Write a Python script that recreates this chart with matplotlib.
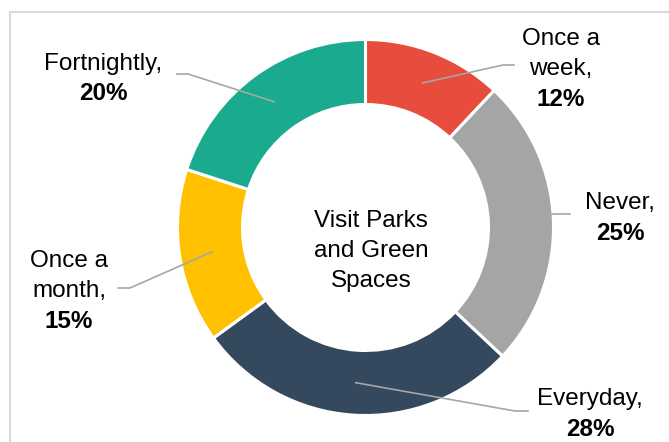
import numpy as np
import matplotlib.pyplot as plt

# Survey answers: how often people visit parks and green spaces
categories = ['Once a week', 'Never', 'Everyday', 'Once a month', 'Fortnightly']
values = [12, 25, 28, 15, 20]
label_names = ['Once a\nweek,', 'Never,', 'Everyday,', 'Once a\nmonth,', 'Fortnightly,']
colors = ['#E74C3C', '#A5A5A5', '#34495E', '#FFC000', '#1AAB8E']
center_title = 'Visit Parks\nand Green\nSpaces'

W, H = 669, 442
plt.rcParams['font.family'] = ['Liberation Sans', 'DejaVu Sans']

fig = plt.figure(figsize=(W / 100, H / 100), dpi=100)
ax = fig.add_axes([0, 0, 1, 1])

def py(y):
    # pixel rows run downwards, the axes run upwards
    return H - y

cx, cy = 365.5, py(227.5)
radius, ring = 188, 65

wedges, _ = ax.pie(values, colors=colors, startangle=90, counterclock=False,
                   radius=radius, center=(cx, cy),
                   wedgeprops=dict(width=ring, edgecolor='white', linewidth=2.2))

ax.set_xlim(0, W)
ax.set_ylim(0, H)
ax.set_aspect('equal')
ax.axis('off')

# frame around the chart area
ax.plot([9.5, 9.5, W + 5], [py(H + 5), py(12), py(12)], color='#D9D9D9', lw=1.5,
        solid_joinstyle='miter')

# elbow point, end of leader, label centre x, first baseline
label_layout = [
    ((503, 65), (514, 65), 561, 45),
    ((553, 214), (570, 214), 620, 209),
    ((515, 411), (528, 411), 590, 405),
    ((130, 288), (118, 288), 69, 267),
    ((188, 74), (177, 74), 103.5, 70),
]
line_step = 30.5
fs = 17.5

for w, v, name, (elbow, end, lx, base) in zip(wedges, values, label_names, label_layout):
    mid = np.deg2rad((w.theta1 + w.theta2) / 2)
    r_mid = radius - ring / 2
    sx, sy = cx + r_mid * np.cos(mid), cy + r_mid * np.sin(mid)
    ax.plot([sx, elbow[0], end[0]], [sy, py(elbow[1]), py(end[1])],
            color='#A6A6A6', lw=1.2, zorder=3)
    lines = name.split('\n')
    for i, t in enumerate(lines):
        ax.text(lx, py(base + i * line_step), t, ha='center', va='baseline',
                fontsize=fs, color='black')
    ax.text(lx, py(base + len(lines) * line_step), f'{v}%', ha='center',
            va='baseline', fontsize=fs, fontweight='bold', color='black')

for i, t in enumerate(center_title.split('\n')):
    ax.text(371, py(227 + i * 30), t, ha='center', va='baseline',
            fontsize=fs, color='black')

fig.savefig('out.png', dpi=100)
